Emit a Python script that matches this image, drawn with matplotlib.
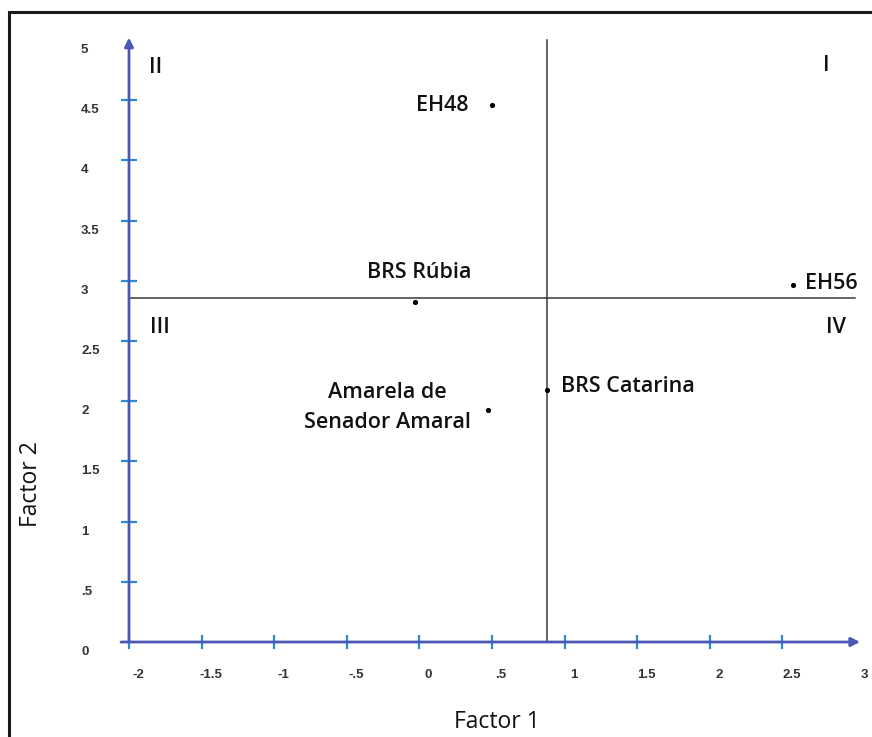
import matplotlib
matplotlib.use("Agg")
import matplotlib.pyplot as plt
from matplotlib.transforms import ScaledTranslation
from matplotlib.patches import Rectangle
import numpy as np

# ---- data ----
names = ["EH48", "BRS Rúbia", "EH56", "Amarela de\nSenador Amaral", "BRS Catarina"]
factor1 = [0.50, -0.03, 2.57, 0.47, 0.88]
factor2 = [4.46, 2.82, 2.965, 1.93, 2.09]
xticks = [-2, -1.5, -1, -0.5, 0, 0.5, 1, 1.5, 2, 2.5, 3]
xticklabels = ["-2", "-1.5", "-1", "-.5", "0", ".5", "1", "1.5", "2", "2.5", "3"]
yticks = [0, 0.5, 1, 1.5, 2, 2.5, 3, 3.5, 4, 4.5, 5]
yticklabels = ["0", ".5", "1", "1.5", "2", "2.5", "3", "3.5", "4", "4.5", "5"]
quadrants = ["I", "II", "III", "IV"]

W, H, DPI = 872, 737, 100
fig = plt.figure(figsize=(W / DPI, H / DPI), dpi=DPI)
fig.patch.set_facecolor("white")

x0, x1 = 129, 855   # pixel of x=-2 and x=3
ytop, ybot = 40, 642  # pixel of y=5 and y=0
ax = fig.add_axes([x0 / W, (H - ybot) / H, (x1 - x0) / W, (ybot - ytop) / H])
ax.set_xlim(-2, 3)
ax.set_ylim(0, 5)
for s in ax.spines.values():
    s.set_visible(False)
ax.set_facecolor("none")

axis_col = "#4b58b3"
tick_col = "#2b8ad6"
txt_col = "#333333"
label_font = "Open Sans"

# axes lines with arrows
ax.annotate("", xy=(3.035, 0), xytext=(-2.055, 0), xycoords="data",
            arrowprops=dict(arrowstyle="-|>", color=axis_col, lw=2.0, mutation_scale=13,
                            shrinkA=0, shrinkB=0), annotation_clip=False)
ax.annotate("", xy=(-2, 5.02), xytext=(-2, 0), xycoords="data",
            arrowprops=dict(arrowstyle="-|>", color=axis_col, lw=2.0, mutation_scale=13,
                            shrinkA=0, shrinkB=0), annotation_clip=False)

# tick marks
ax.set_xticks(xticks[:-1])
ax.set_yticks(yticks[1:-1])
ax.set_xticklabels([])
ax.set_yticklabels([])
ax.tick_params(axis="x", direction="inout", length=10, width=1.6, color=tick_col)
ax.tick_params(axis="y", direction="inout", length=11, width=1.6, color=tick_col)
ax.tick_params(axis="x", which="major", top=False)
ax.tick_params(axis="y", which="major", right=False)

# tick labels (offset as in the reference)
xoff = ScaledTranslation(9 / DPI, 0, fig.dpi_scale_trans)
for v, lab in zip(xticks, xticklabels):
    ax.text(v, -(675 - ybot) / (ybot - ytop), lab, transform=ax.get_xaxis_transform() + xoff,
            ha="center", va="center", fontsize=9.5, color=txt_col, family="Liberation Sans",
            weight="bold")
yoff = ScaledTranslation(0, -10 / DPI, fig.dpi_scale_trans)
for v, lab in zip(yticks, yticklabels):
    ax.text((81 - x0) / (x1 - x0), v, lab, transform=ax.get_yaxis_transform() + yoff,
            ha="left", va="center", fontsize=9.5, color=txt_col, family="Liberation Sans",
            weight="bold")

# mean lines
mx = np.mean(factor1)
my = np.mean(factor2)
ax.plot([mx, mx], [0, 5], color="#3a3a3a", lw=1.1, clip_on=False)
ax.plot([-2, 3], [my, my], color="#3a3a3a", lw=1.1, clip_on=False)

# points
ax.plot(factor1, factor2, "o", color="black", markersize=2.7, clip_on=False, zorder=5)

offsets = [(-24, 0, "right"), (4, 30, "center"), (12, 2, "left"), (-100, 2, "center"), (14, 4, "left")]
for n, xv, yv, (dx, dy, ha) in zip(names, factor1, factor2, offsets):
    ax.annotate(n, (xv, yv), xytext=(dx, dy), textcoords="offset pixels",
                ha=ha, va="center", fontsize=15.5, family=label_font, weight="semibold",
                color="#111111", linespacing=1.55, multialignment="center")

# quadrant labels
quad_pos = [(2.80, 4.79), (-1.82, 4.77), (-1.786, 2.616), (2.869, 2.616)]
for q, (qx, qy) in zip(quadrants, quad_pos):
    ax.text(qx, qy, q, ha="center", va="center", fontsize=15.5, family=label_font,
            weight="semibold", color="#111111")

# axis titles
fig.text(497 / W, 1 - 722 / H, "Factor 1", ha="center", va="center", fontsize=16.5,
         family=label_font, color="#111111")
fig.text(31 / W, 1 - 484 / H, "Factor 2", ha="center", va="center", fontsize=16.5,
         family=label_font, color="#111111", rotation=90)

# frame
fig.patches.append(Rectangle((9 / W, -0.1), 2, (H - 12) / H + 0.1, transform=fig.transFigure,
                             fill=False, lw=2.2, edgecolor="#1a1a1a"))

fig.savefig("out.png", dpi=DPI)
